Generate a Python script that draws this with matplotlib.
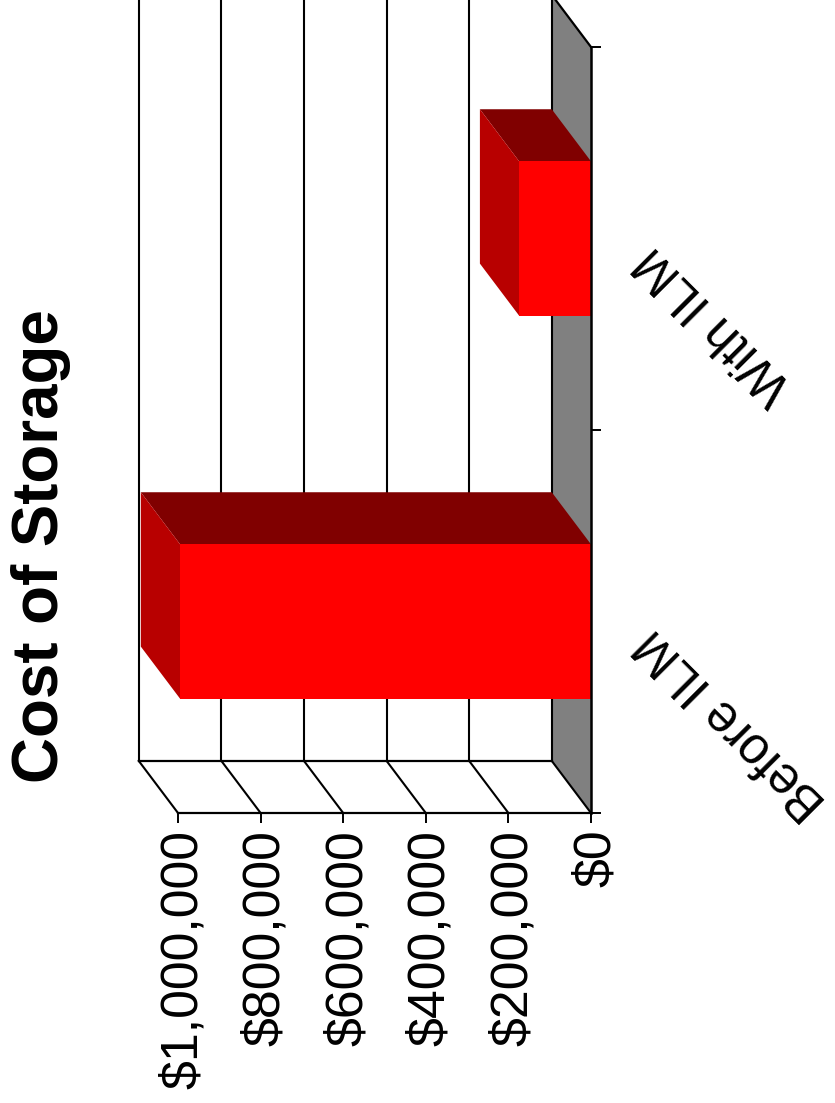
import matplotlib
matplotlib.use("Agg")
import matplotlib.pyplot as plt
from matplotlib.transforms import ScaledTranslation

plt.rcParams['font.family'] = ['Liberation Sans', 'DejaVu Sans']

categories = ['Before ILM', 'With ILM']
cost = [995000, 174000]
value_ticks = [0, 200000, 400000, 600000, 800000, 1000000]
value_labels = ['$0', '$200,000', '$400,000', '$600,000', '$800,000', '$1,000,000']

# fake 3d depth, in data units
depth_x = 95000
depth_y = 0.136
bar_width = 0.403
wall_top = 2 + depth_y

fig = plt.figure(figsize=(8.35, 11.03), dpi=100)
ax = fig.add_axes([178 / 835, 1 - 813 / 1103, 413 / 835, 766 / 1103])
ax.set_xlim(1000000, 0)
ax.set_ylim(0, 2)
ax.patch.set_visible(False)

# floor
ax.fill([0, depth_x, depth_x, 0], [0, depth_y, wall_top, 2], color='#808080', lw=0, clip_on=False, zorder=1)
ax.plot([depth_x, 0], [wall_top, 2], color='black', lw=1.6, clip_on=False, zorder=2)

# back wall and side grid
for v in value_ticks:
    ax.plot([v + depth_x, v + depth_x], [depth_y, wall_top], color='black', lw=1.5, clip_on=False, zorder=2)
    ax.plot([v, v + depth_x], [0, depth_y], color='black', lw=1.5, clip_on=False, zorder=2)
ax.plot([depth_x, 1000000 + depth_x], [depth_y, depth_y], color='black', lw=1.6, clip_on=False, zorder=2)

# bars: front, top and end faces
for i, val in enumerate(cost):
    y0 = i + 0.5 - bar_width / 2
    y1 = i + 0.5 + bar_width / 2
    ax.fill([0, val, val, 0], [y0, y0, y1, y1], color='#ff0000', lw=0, clip_on=False, zorder=4)
    ax.fill([0, val, val + depth_x, depth_x], [y1, y1, y1 + depth_y, y1 + depth_y], color='#800000', lw=0, clip_on=False, zorder=3)
    ax.fill([val, val + depth_x, val + depth_x, val], [y0, y0 + depth_y, y1 + depth_y, y1], color='#b80000', lw=0, clip_on=False, zorder=3)

ax.spines['top'].set_visible(False)
ax.spines['left'].set_visible(False)
ax.spines['right'].set_linewidth(1.8)
ax.spines['bottom'].set_linewidth(1.6)
ax.spines['right'].set_zorder(5)
ax.spines['bottom'].set_zorder(5)

ax.set_xticks(value_ticks)
ax.set_xticklabels(value_labels, rotation=90, fontsize=37.4)
ax.tick_params(axis='x', length=7.2, width=1.4, pad=4.9, color='black')
# nudge the value labels to the right of their ticks
for lbl in ax.get_xticklabels():
    lbl.set_transform(lbl.get_transform() + ScaledTranslation(5 / 100, 0, fig.dpi_scale_trans))
ax.yaxis.tick_right()
ax.set_yticks([0, 1, 2])
ax.set_yticklabels([])
ax.tick_params(axis='y', length=7.2, width=1.4, color='black')

# slanted category names, hung from their far end
for i, name in enumerate(categories):
    ax.annotate(name, xy=(0, i + 0.5), xytext=(38, -11), textcoords='offset points',
                rotation=135, rotation_mode='anchor', ha='right', va='center',
                fontsize=36.4, annotation_clip=False)

fig.text(41 / 835, 1 - 546 / 1103, 'Cost of Storage', rotation=90, ha='center', va='center',
         fontsize=45.8, fontweight='bold')

fig.savefig('out.png', dpi=100)
